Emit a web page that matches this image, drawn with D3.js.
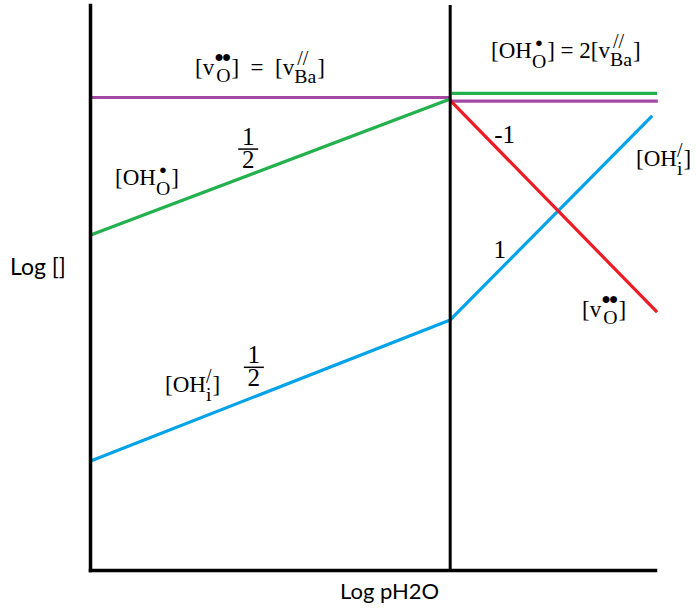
<!DOCTYPE html>
<html>
<head>
<meta charset="utf-8">
<script src="https://cdn.jsdelivr.net/npm/d3@7"></script>
<style>
  html, body { margin: 0; padding: 0; background: #fff; }
  svg { display: block; }
</style>
</head>
<body>
<svg id="chart" width="696" height="608"></svg>
<script>
// Brouwer-type defect diagram: log concentration vs log pH2O, two regimes.
const xExtent = [0, 8];
const yExtent = [0, 8];
const regimeBoundary = 5.1;

// Defect concentration lines, [log pH2O, log concentration]
const vBaLow   = [[0, 6.69], [5.1, 6.69]];
const vBaHigh  = [[5.1, 6.64], [8.04, 6.64]];
const OHoLow   = [[0, 4.74], [5.1, 6.67]];
const OHoHigh  = [[5.12, 6.75], [8.03, 6.75]];
const OHiLow   = [[0, 1.54], [5.1, 3.54]];
const OHiHigh  = [[5.1, 3.54], [7.96, 6.43]];
const vOHigh   = [[5.1, 6.65], [8.03, 3.65]];

// Slope labels
const slopeLabels = [
  { x: 2.24, y: 5.96, text: "1/2" },
  { x: 2.32, y: 2.87, text: "1/2" },
  { x: 5.87, y: 6.05, text: "-1" },
  { x: 5.8, y: 4.42, text: "1" }
];

const svg = d3.select("#chart");
const x = d3.scaleLinear().domain(xExtent).range([90, 655]);
const y = d3.scaleLinear().domain(yExtent).range([570, 5]);

const line = d3.line().x(d => x(d[0])).y(d => y(d[1]));

const series = [
  { data: vBaLow,  color: "#a349a4" },
  { data: vBaHigh, color: "#a349a4" },
  { data: OHoLow,  color: "#22b14c" },
  { data: OHoHigh, color: "#22b14c" },
  { data: OHiLow,  color: "#00a2e8" },
  { data: OHiHigh, color: "#00a2e8" },
  { data: vOHigh,  color: "#ed1c24" }
];

svg.selectAll("path.series")
  .data(series)
  .enter().append("path")
  .attr("class", "series")
  .attr("d", d => line(d.data))
  .attr("fill", "none")
  .attr("stroke", d => d.color)
  .attr("stroke-width", 3.2);

// Axes (no ticks)
const xAxis = svg.append("g")
  .attr("transform", `translate(0,${y(0)})`)
  .call(d3.axisBottom(x).ticks(0).tickSizeOuter(0));
const yAxis = svg.append("g")
  .attr("transform", `translate(${x(0)},0)`)
  .call(d3.axisLeft(y).ticks(0).tickSizeOuter(0));
[xAxis, yAxis].forEach(a => a.select(".domain")
  .attr("stroke", "#000").attr("stroke-width", 3.5).attr("stroke-linecap", "square"));

// Regime boundary
svg.append("line")
  .attr("x1", x(regimeBoundary)).attr("x2", x(regimeBoundary))
  .attr("y1", y(8)).attr("y2", y(0))
  .attr("stroke", "#000").attr("stroke-width", 3);

// Axis titles
const sansFont = "Lato, 'Open Sans', sans-serif";
svg.append("text").attr("x", 10).attr("y", 275)
  .attr("font-family", sansFont).attr("font-size", 23).attr("fill", "#000")
  .text("Log []");
svg.append("text").attr("x", 340).attr("y", 599)
  .attr("font-family", sansFont).attr("font-size", 22).attr("fill", "#000")
  .text("Log pH2O");

// Defect notation: one text element, stacked sub/superscripts placed by tspans
const serif = "'Liberation Serif', 'DejaVu Serif', serif";
const SIZE = 23;
function species(x0, y0, segs) {
  const t = svg.append("text").attr("font-family", serif).attr("fill", "#000")
    .attr("font-size", SIZE);
  let cx = x0;
  segs.forEach(s => {
    if (typeof s === "string") {
      const sp = t.append("tspan").attr("x", cx).attr("y", y0).text(s);
      cx += sp.node().getComputedTextLength();
    } else {
      const sub = t.append("tspan").attr("x", cx + (s.subDx || 0)).attr("y", y0 + s.subDy)
        .attr("font-size", SIZE * 0.86).text(s.sub);
      const subW = sub.node().getComputedTextLength() + (s.subDx || 0);
      const sup = t.append("tspan").attr("x", cx + s.supDx).attr("y", y0 - s.supDy)
        .attr("font-size", s.supSize).attr("letter-spacing", s.supLs || 0).text(s.sup);
      const supW = sup.node().getComputedTextLength() + s.supDx;
      cx += Math.max(subW, supW) + 1;
    }
  });
}

const vDots = { sub: "O", subDx: 2, subDy: 7, sup: "●●", supSize: 16, supDx: 0, supDy: 13, supLs: -2 };
const hDot = { sub: "O", subDy: 10, sup: "●", supSize: 13, supDx: 3, supDy: 11 };
const baSlash = { sub: "Ba", subDy: 8, sup: "//", supSize: 20, supDx: 3, supDy: 10 };
const iSlash = { sub: "i", subDy: 9, sup: "/", supSize: 20, supDx: 0, supDy: 9 };

species(195, 75, ["[v", vDots, "]\u2002=\u2002[v", baSlash, "]"]);
species(491, 58, ["[OH", hDot, "] = 2[v", baSlash, "]"]);
species(115, 185, ["[OH", hDot, "]"]);
species(636, 166, ["[OH", iSlash, "]"]);
species(582, 317, ["[v", vDots, "]"]);
species(165, 392, ["[OH", iSlash, "]"]);

// Slope labels; "1/2" is drawn as a stacked fraction in one text element
slopeLabels.forEach(d => {
  const px = x(d.x), py = y(d.y);
  const g = svg.append("g").attr("font-family", serif).attr("fill", "#000");
  if (d.text.includes("/")) {
    const [num, den] = d.text.split("/");
    const t = g.append("text").attr("text-anchor", "middle").attr("font-size", 25);
    t.append("tspan").attr("x", px).attr("y", py - 4).text(num);
    t.append("tspan").attr("x", px).attr("y", py + 19).text(den);
    g.append("line").attr("x1", px - 10).attr("x2", px + 10)
      .attr("y1", py).attr("y2", py).attr("stroke", "#000").attr("stroke-width", 1.5);
  } else {
    g.append("text").attr("x", px).attr("y", py).attr("text-anchor", "middle")
      .attr("font-size", 25).text(d.text);
  }
});
</script>
</body>
</html>
